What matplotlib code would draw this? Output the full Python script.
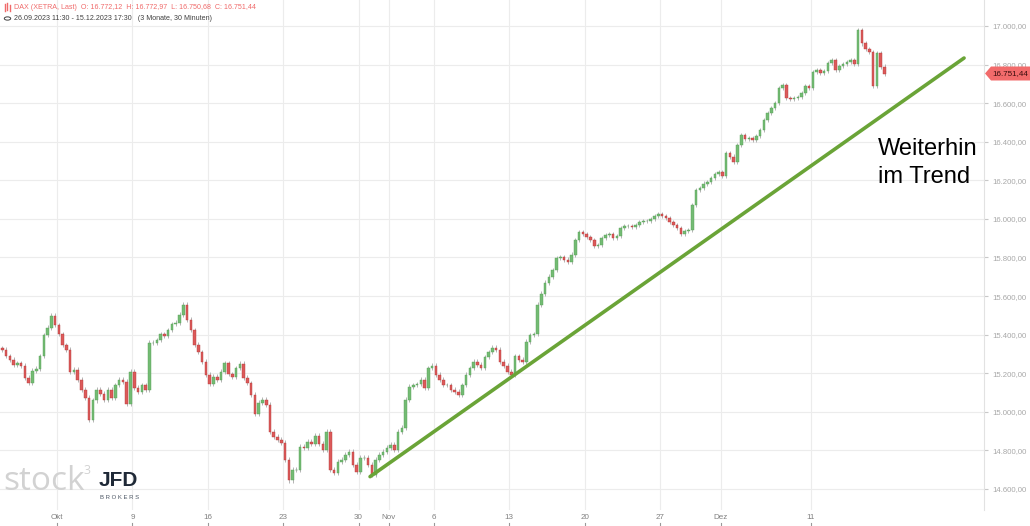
import numpy as np
import matplotlib
matplotlib.use("Agg")
import matplotlib.pyplot as plt
from matplotlib.patches import Polygon, Circle
from matplotlib.lines import Line2D
import matplotlib.transforms as mtransforms

plt.rcParams['font.family'] = ['Liberation Sans', 'DejaVu Sans']

# DAX 30-minute data, shown as 4 blocks per trading day (closes)
day_labels = ['26.09', '27.09', '28.09', '29.09',
              '02.10', '03.10', '04.10', '05.10', '06.10',
              '09.10', '10.10', '11.10', '12.10', '13.10',
              '16.10', '17.10', '18.10', '19.10', '20.10',
              '23.10', '24.10', '25.10', '26.10', '27.10',
              '30.10', '31.10', '01.11', '02.11', '03.11',
              '06.11', '07.11', '08.11', '09.11', '10.11',
              '13.11', '14.11', '15.11', '16.11', '17.11',
              '20.11', '21.11', '22.11', '23.11', '24.11',
              '27.11', '28.11', '29.11', '30.11', '01.12',
              '04.12', '05.12', '06.12', '07.12', '08.12',
              '11.12', '12.12', '13.12', '14.12', '15.12']

closes = [
    [15322, 15290, 15270],
    [15244, 15254, 15239, 15177],
    [15150, 15213, 15223, 15290],
    [15399, 15436, 15498, 15451],
    [15404, 15347, 15322, 15208],
    [15218, 15166, 15115, 15073],
    [14960, 15060, 15115, 15095],
    [15063, 15115, 15073, 15140],
    [15166, 15156, 15042, 15208],
    [15125, 15104, 15140, 15115],
    [15358, 15358, 15373, 15404],
    [15394, 15425, 15456, 15462],
    [15503, 15555, 15477, 15425],
    [15348, 15311, 15260, 15192],
    [15145, 15182, 15166, 15208],
    [15254, 15197, 15182, 15228],
    [15249, 15177, 15150, 15089],
    [14990, 15047, 15063, 15037],
    [14897, 14871, 14856, 14840],
    [14752, 14645, 14700, 14700],
    [14820, 14814, 14845, 14835],
    [14876, 14835, 14804, 14897],
    [14700, 14685, 14742, 14752],
    [14778, 14793, 14726, 14690],
    [14762, 14762, 14726, 14674],
    [14752, 14778, 14793, 14814],
    [14830, 14804, 14897, 14918],
    [15063, 15130, 15140, 15145],
    [15166, 15125, 15228, 15239],
    [15192, 15166, 15140, 15140],
    [15115, 15104, 15089, 15140],
    [15192, 15228, 15260, 15244],
    [15228, 15285, 15311, 15332],
    [15322, 15260, 15239, 15208],
    [15192, 15290, 15270, 15260],
    [15363, 15399, 15404, 15555],
    [15612, 15669, 15700, 15736],
    [15798, 15803, 15788, 15778],
    [15814, 15891, 15933, 15922],
    [15907, 15891, 15860, 15865],
    [15902, 15917, 15922, 15902],
    [15912, 15953, 15964, 15964],
    [15959, 15969, 15984, 15990],
    [15990, 16000, 16016, 16026],
    [16016, 16005, 15984, 15969],
    [15953, 15922, 15938, 15943],
    [16073, 16150, 16161, 16182],
    [16192, 16213, 16233, 16244],
    [16223, 16342, 16322, 16296],
    [16384, 16435, 16415, 16420],
    [16409, 16430, 16461, 16513],
    [16549, 16575, 16601, 16679],
    [16694, 16627, 16622, 16627],
    [16632, 16653, 16689, 16679],
    [16762, 16772, 16757, 16767],
    [16808, 16824, 16772, 16793],
    [16803, 16813, 16824, 16803],
    [16980, 16910, 16880, 16865],
    [16690, 16860, 16790, 16751.44],
]
first_open = 15330

# x axis ticks, in trading days counted from Mon 02.10.
tick_days = [0, 5, 10, 15, 20, 22, 25, 30, 35, 40, 44, 50]
tick_names = ['Okt', '9', '16', '23', '30', 'Nov', '6', '13', '20', '27', 'Dez', '11']
price_ticks = list(range(14600, 17001, 200))

# trend line (start / end in trading days and price)
trend_days = [20.76, 60.15]
trend_prices = [14664, 16834]

last_price = 16751.44


def de(v):
    s = f"{v:,.2f}"
    return s.replace(',', 'X').replace('.', ',').replace('X', '.')


# positions of the blocks
xs, cs = [], []
for d, day in enumerate(closes):
    k = d - 4
    start = 4 - len(day)
    for j, c in enumerate(day):
        xs.append(k + (start + j + 0.5) / 4)
        cs.append(c)
xs = np.array(xs)
cs = np.array(cs, dtype=float)
os_ = np.concatenate([[first_open], cs[:-1]])

W, H = 1030, 526
fig = plt.figure(figsize=(W / 100, H / 100), dpi=100)
fig.patch.set_facecolor('white')
ax = fig.add_axes([0, 16 / H, 984 / W, 510 / H])
ax.set_facecolor('white')

ax.set_xlim(-57 / 15.08, 927 / 15.08)
ax.set_ylim(17000 - 484 * 5.1836, 17000 + 26 * 5.1836)

for sp in ['top', 'left', 'bottom']:
    ax.spines[sp].set_visible(False)
ax.spines['right'].set_color('#e2e2e2')

ax.set_yticks(price_ticks)
ax.set_yticklabels([de(p) for p in price_ticks])
ax.yaxis.tick_right()
ax.tick_params(axis='y', colors='#c8c8c8', labelcolor='#a8a8a8', labelsize=5.6,
               length=3, width=0.8, pad=3)
ax.set_xticks(tick_days)
ax.set_xticklabels(tick_names)
ax.tick_params(axis='x', length=0, labelcolor='#808080', labelsize=5.8, pad=3)
ax.grid(True, color='#ececec', linewidth=0.8)
ax.set_axisbelow(True)

# little tick marks under the date labels
tr = mtransforms.blended_transform_factory(ax.transData, ax.transAxes)
for t in tick_days:
    ax.plot([t, t], [-13 / 510, -16 / 510], color='#999999', lw=0.8,
            transform=tr, clip_on=False)

# candles
up = cs >= os_
wick = 12
ax.vlines(xs, np.minimum(os_, cs) - wick, np.maximum(os_, cs) + wick,
          color='#a8a8a8', lw=0.6, zorder=2)
ax.bar(xs[up], (cs - os_)[up], bottom=os_[up], width=0.17,
       color='#74bb74', edgecolor='#56a056', linewidth=0.3, zorder=3)
ax.bar(xs[~up], (cs - os_)[~up], bottom=os_[~up], width=0.17,
       color='#dc5a5a', edgecolor='#b53a3a', linewidth=0.3, zorder=3)

# trend line
ax.plot(trend_days, trend_prices, color='#6aa437', lw=2.6,
        solid_capstyle='round', zorder=4)

ax.text(54.45, 16290, 'Weiterhin\nim Trend', fontsize=17, color='black',
        linespacing=1.3, va='center', ha='left')

# last price tag
ytag = 1 - 73.5 / H
tag = Polygon([(985 / W, ytag), (991 / W, ytag + 7 / H), (1030 / W, ytag + 7 / H),
               (1030 / W, ytag - 7 / H), (991 / W, ytag - 7 / H)],
              closed=True, transform=fig.transFigure, facecolor='#f26b6b',
              edgecolor='none')
fig.patches.append(tag)
fig.text(1010 / W, ytag, de(last_price), fontsize=5.8, color='#3a0c0c',
         ha='center', va='center')

# header
fig.text(14 / W, 1 - 7.5 / H,
         'DAX (XETRA, Last)  O: 16.772,12  H: 16.772,97  L: 16.750,68  C: 16.751,44',
         fontsize=5.15, color='#f06a6a', va='center', ha='left')
fig.text(14 / W, 1 - 18.5 / H,
         '26.09.2023 11:30 - 15.12.2023 17:30   (3 Monate, 30 Minuten)',
         fontsize=5.15, color='#404040', va='center', ha='left')
for x0, lo, hi in [(4.5, 4, 11), (7, 3, 10), (9.5, 5, 11)]:
    fig.add_artist(Line2D([x0 / W, x0 / W], [1 - hi / H, 1 - lo / H],
                          color='#f06a6a', lw=1.0, transform=fig.transFigure))
fig.add_artist(Circle((7.5 / W, 1 - 18.5 / H), 3.2 / W, transform=fig.transFigure,
                      facecolor='none', edgecolor='#404040', lw=0.7))

# logo
fig.text(3 / W, 1 - 481 / H, 'stock', fontsize=24, color='#d2d2d2',
         ha='left', va='center', fontfamily='Open Sans')
fig.text(84 / W, 1 - 471 / H, '3', fontsize=9, color='#d2d2d2',
         ha='left', va='center', fontfamily='Open Sans')
fig.text(99 / W, 1 - 481 / H, 'JFD', fontsize=15, color='#1f2937',
         ha='left', va='center', fontweight='bold')
fig.text(100 / W, 1 - 497.5 / H, 'B R O K E R S', fontsize=4.3, color='#4b5563',
         ha='left', va='center')

fig.savefig('out.png', dpi=100)
